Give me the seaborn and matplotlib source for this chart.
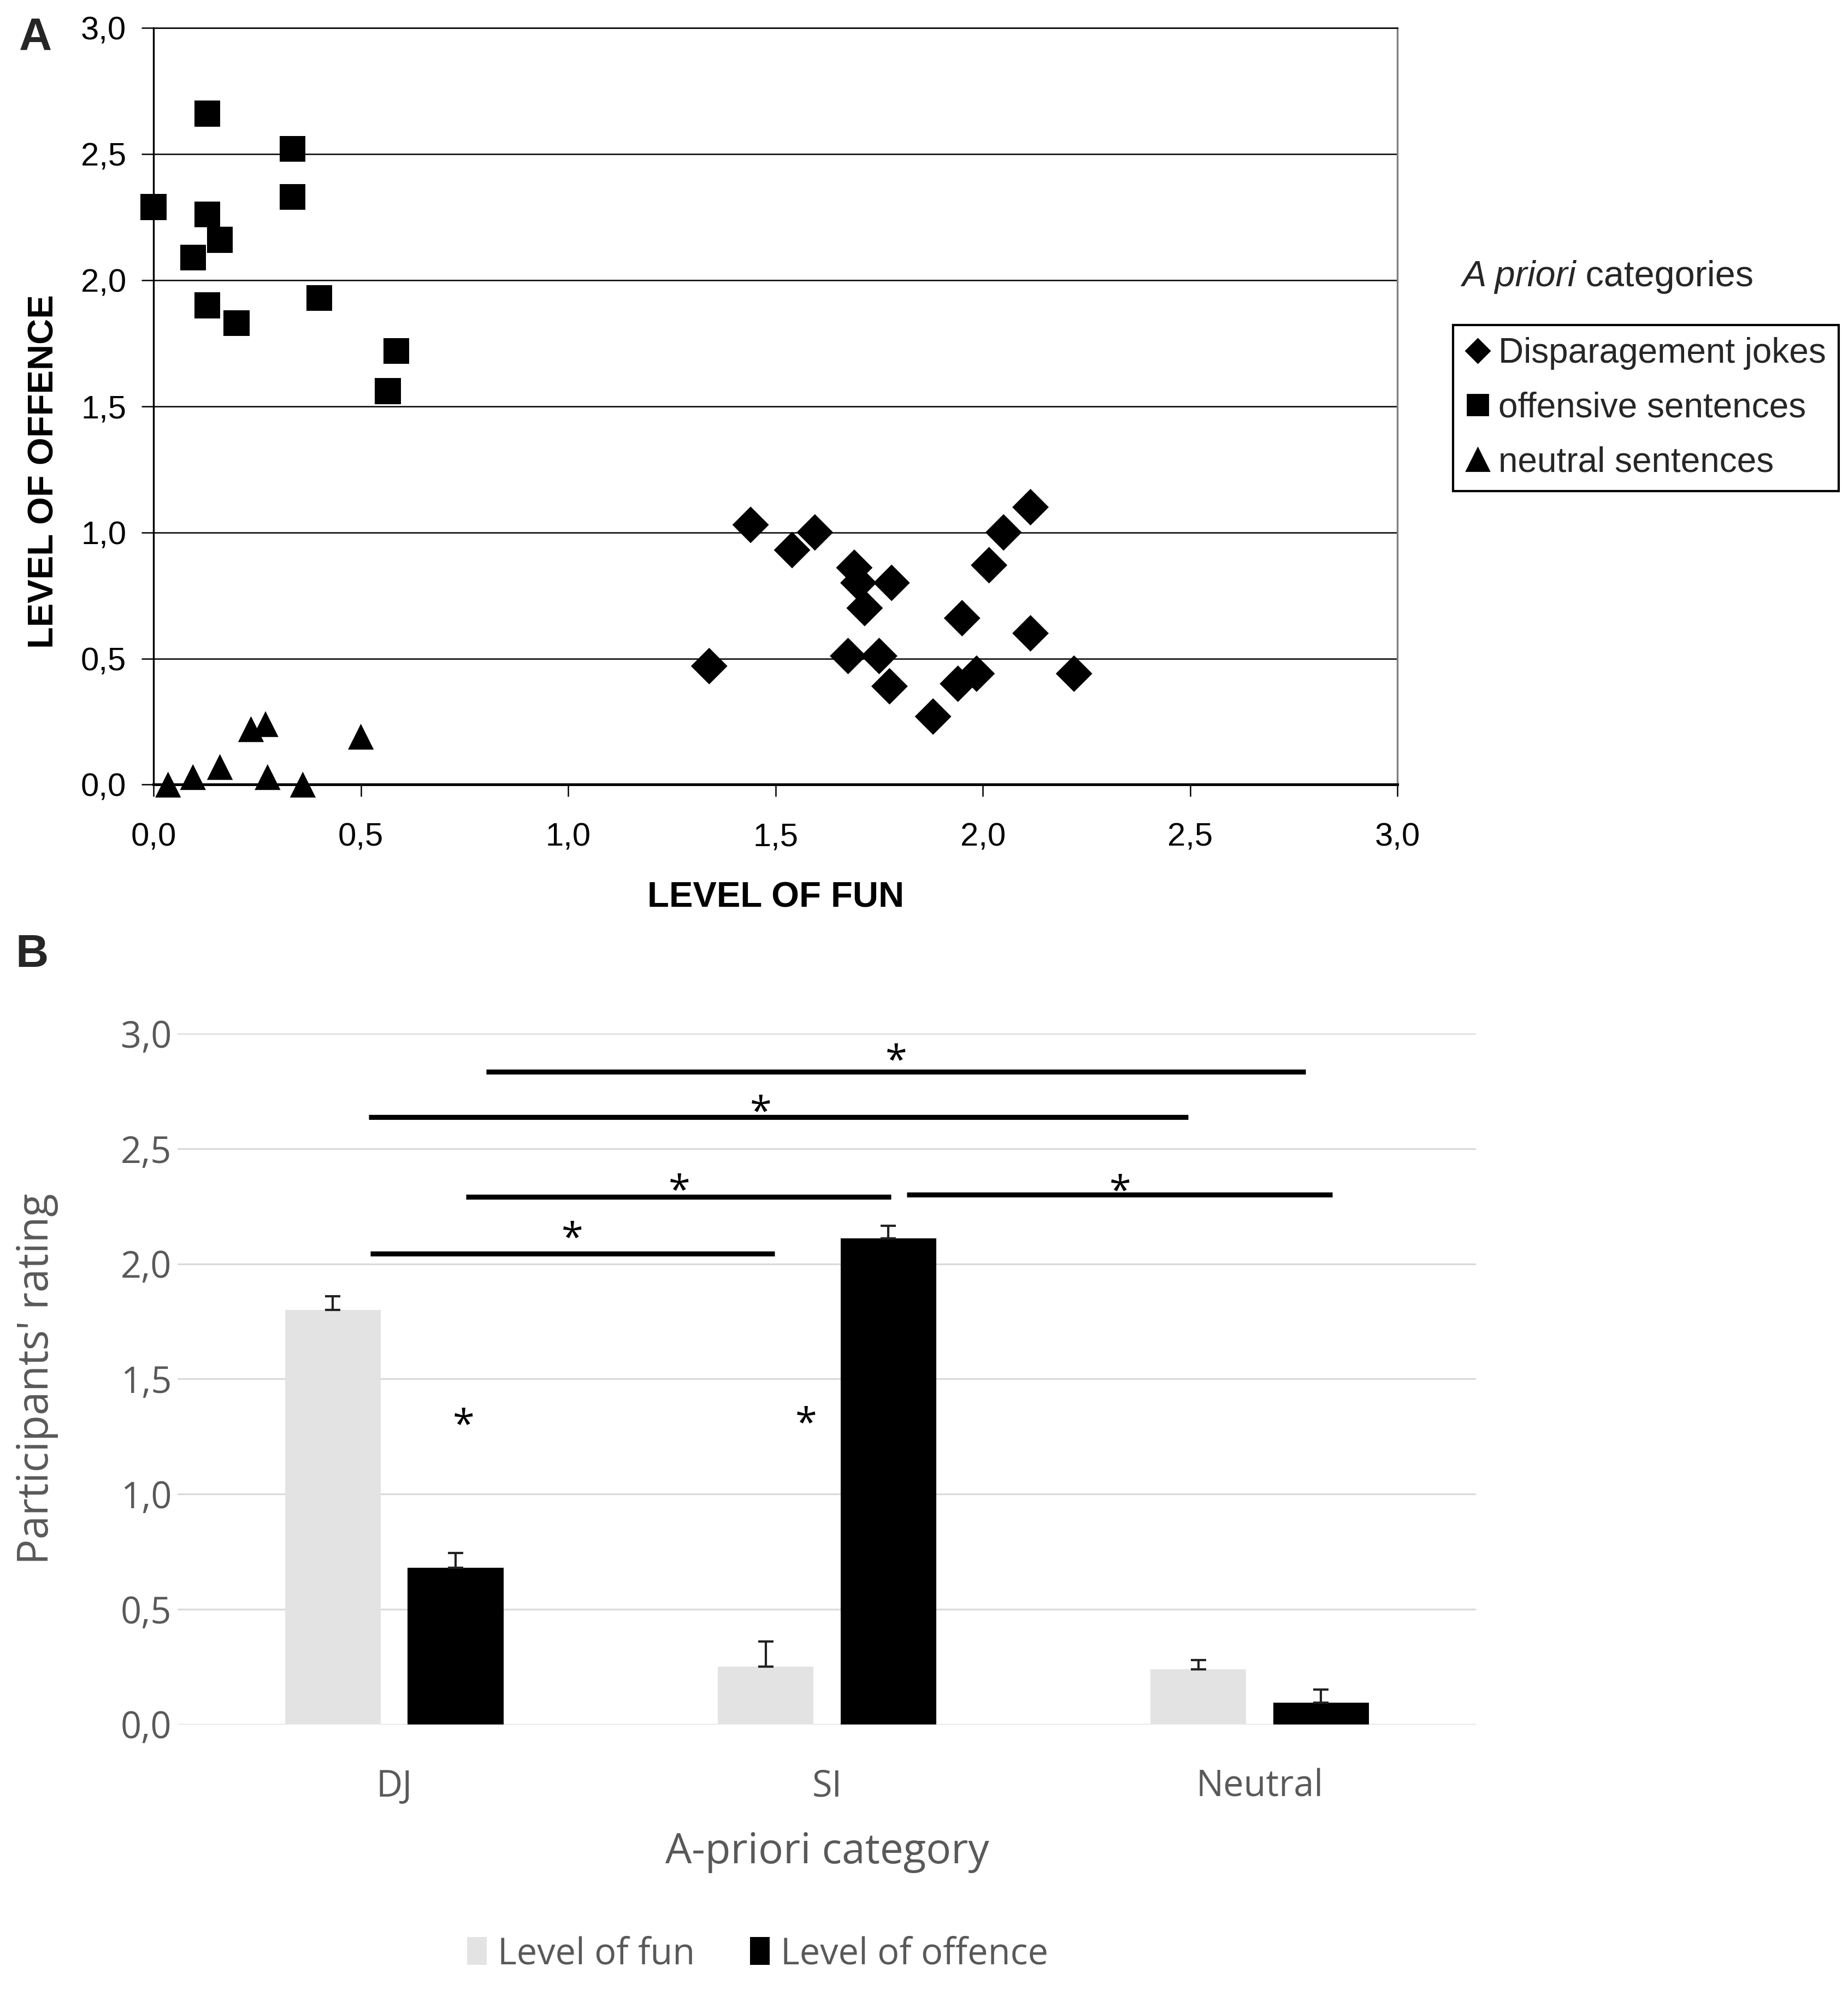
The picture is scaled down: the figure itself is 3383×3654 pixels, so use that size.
import numpy as np
import pandas as pd
import matplotlib
matplotlib.use("Agg")
import matplotlib.pyplot as plt
import matplotlib.transforms as mtransforms
import seaborn as sns
from matplotlib.lines import Line2D

# ---------------- Panel A data ----------------
dj_fun = [1.44, 1.54, 1.595, 1.69, 1.70, 1.715, 1.78, 1.34, 1.675, 1.75,
          1.775, 1.88, 1.95, 1.94, 1.985, 2.015, 2.05, 2.115, 2.115, 2.22]
dj_off = [1.03, 0.93, 1.00, 0.86, 0.80, 0.70, 0.80, 0.47, 0.51, 0.51,
          0.39, 0.27, 0.66, 0.40, 0.44, 0.87, 1.00, 1.10, 0.60, 0.44]
os_fun = [0.00, 0.13, 0.13, 0.095, 0.16, 0.13, 0.20, 0.335, 0.335, 0.40, 0.585, 0.565]
os_off = [2.29, 2.66, 2.26, 2.09, 2.16, 1.90, 1.83, 2.52, 2.33, 1.93, 1.72, 1.56]
ns_fun = [0.035, 0.095, 0.16, 0.235, 0.27, 0.275, 0.36, 0.50]
ns_off = [0.00, 0.03, 0.07, 0.22, 0.24, 0.03, 0.00, 0.19]
categories_a = ["Disparagement jokes", "offensive sentences", "neutral sentences"]
markers_a = ["D", "s", "^"]
axis_ticks = [0.0, 0.5, 1.0, 1.5, 2.0, 2.5, 3.0]
axis_tick_labels = ["0,0", "0,5", "1,0", "1,5", "2,0", "2,5", "3,0"]

# ---------------- Panel B data ----------------
b_categories = ["DJ", "SI", "Neutral"]
b_series = ["Level of fun", "Level of offence"]
fun_mean = [1.80, 0.25, 0.24]
fun_err = [0.06, 0.11, 0.04]
off_mean = [0.68, 2.11, 0.095]
off_err = [0.065, 0.055, 0.055]
# significance brackets (x start, x end, y) and asterisks (x, y)
sig_x0 = [0.213, -0.059, 0.166, 1.185, -0.055]
sig_x1 = [2.106, 1.834, 1.148, 2.168, 0.879]
sig_y = [2.835, 2.637, 2.290, 2.300, 2.043]
star_x = [1.160, 0.847, 0.659, 1.677, 0.412, 0.161, 0.952]
star_y = [2.915, 2.693, 2.350, 2.348, 2.145, 1.332, 1.341]

sns.set_theme(style="white")
plt.rcParams["font.family"] = ["Liberation Sans", "DejaVu Sans"]

fig = plt.figure(figsize=(3383 / 200, 3654 / 200), dpi=200)

# ================= Panel A =================
axA = fig.add_axes([0.0831, 0.6069, 0.6731, 0.3791])
dfA = pd.DataFrame({
    "fun": dj_fun + os_fun + ns_fun,
    "offence": dj_off + os_off + ns_off,
    "category": [categories_a[0]] * len(dj_fun) + [categories_a[1]] * len(os_fun)
                + [categories_a[2]] * len(ns_fun),
})
sns.scatterplot(data=dfA, x="fun", y="offence", style="category",
                style_order=categories_a, markers=dict(zip(categories_a, markers_a)),
                color="black", s=290, linewidth=0, ax=axA, legend=False,
                clip_on=False, zorder=3)
axA.set_xlim(0, 3)
axA.set_ylim(0, 3)
axA.set_xticks(axis_ticks, axis_tick_labels)
axA.set_yticks(axis_ticks, axis_tick_labels)
axA.yaxis.grid(True, color="black", lw=0.9)
axA.xaxis.grid(False)
axA.set_axisbelow(True)
for side, col, lw in [("left", "black", 1.2), ("bottom", "black", 1.8),
                      ("top", "black", 0.9), ("right", "#808080", 1.2)]:
    axA.spines[side].set_visible(True)
    axA.spines[side].set_color(col)
    axA.spines[side].set_linewidth(lw)
axA.tick_params(axis="both", which="both", bottom=True, left=True, top=False, right=False,
                direction="out", length=8, width=0.9, color="black", labelsize=21.5,
                labelcolor="black")
axA.tick_params(axis="x", pad=17)
axA.tick_params(axis="y", pad=10)
axA.set_xlabel("LEVEL OF FUN", fontsize=23.5, fontweight="bold", color="black")
axA.set_ylabel("LEVEL OF OFFENCE", fontsize=23.5, fontweight="bold", color="black")
axA.xaxis.set_label_coords(0.5, -0.128)
axA.yaxis.set_label_coords(-0.075, 0.414)

fig.text(0.0192, 0.981, "A", fontsize=30, fontweight="bold", ha="center", va="center")

t1 = fig.text(0.791, 0.8613, "A priori", fontsize=24, style="italic", ha="left",
              va="center")
axA.annotate(" categories", xy=(1, 0.5), xycoords=t1, fontsize=24, ha="left",
             va="center", annotation_clip=False)

handlesA = [Line2D([], [], marker="D", ls="none", color="black", ms=11),
            Line2D([], [], marker="s", ls="none", color="black", ms=14),
            Line2D([], [], marker="^", ls="none", color="black", ms=15)]
legA = fig.legend(handlesA, categories_a, loc="upper left",
                  bbox_to_anchor=(0.7864, 0.8372), bbox_transform=fig.transFigure,
                  frameon=True, fancybox=False, edgecolor="black", fontsize=23,
                  handlelength=0.7, handletextpad=0.25, borderpad=0.35,
                  labelspacing=0.62, borderaxespad=0, framealpha=1)
legA.get_frame().set_linewidth(1.5)

# ================= Panel B =================
bfont = ["Open Sans", "DejaVu Sans"]
grey_txt = "#595959"
axB = fig.add_axes([0.0962, 0.1361, 0.7026, 0.3461])
dfB = pd.DataFrame({
    "category": b_categories * 2,
    "series": [b_series[0]] * 3 + [b_series[1]] * 3,
    "rating": fun_mean + off_mean,
})
sns.barplot(data=dfB, x="category", y="rating", hue="series", hue_order=b_series,
            palette=["#e3e3e3", "black"], width=0.567, gap=0.22, errorbar=None,
            linewidth=0, ax=axB, zorder=2)
for cont, errs in zip(axB.containers, [fun_err, off_err]):
    xs = [p.get_x() + p.get_width() / 2 for p in cont]
    hs = [p.get_height() for p in cont]
    axB.errorbar(xs, hs, yerr=[np.zeros(len(errs)), errs], fmt="none",
                 ecolor="#222222", elinewidth=1.5, capsize=5, capthick=1.5, zorder=3)

axB.set_xlim(-0.5, 2.5)
axB.set_ylim(0, 3)
axB.set_yticks(axis_ticks, axis_tick_labels)
axB.yaxis.grid(True, color="#d9d9d9", lw=1.1)
axB.xaxis.grid(False)
axB.set_axisbelow(True)
for s in axB.spines.values():
    s.set_visible(False)
axB.tick_params(axis="both", length=0, labelsize=24, labelcolor=grey_txt)
axB.tick_params(axis="x", pad=29)
axB.tick_params(axis="y", pad=4)
for lab in axB.get_xticklabels() + axB.get_yticklabels():
    lab.set_family(bfont)
axB.set_xlabel("A-priori category", fontsize=27.5, color=grey_txt, family=bfont)
axB.set_ylabel("Participants' rating", fontsize=28, color=grey_txt, family=bfont)
axB.xaxis.set_label_coords(0.5, -0.155)
axB.yaxis.set_label_coords(-0.092, 0.5)

for x0, x1, y in zip(sig_x0, sig_x1, sig_y):
    axB.plot([x0, x1], [y, y], color="black", lw=3.3, solid_capstyle="butt", zorder=4)
star_trans = mtransforms.offset_copy(axB.transData, fig=fig, x=0, y=-6, units="points")
for x, y in zip(star_x, star_y):
    axB.text(x, y, "*", fontsize=26, color="black", ha="center", va="center",
             family=bfont, zorder=5, transform=star_trans)

hB, lB = axB.get_legend_handles_labels()
if axB.get_legend() is not None:
    axB.get_legend().remove()
legB = fig.legend(hB, lB, loc="center", bbox_to_anchor=(0.41, 0.021),
                  bbox_transform=fig.transFigure, ncol=2, frameon=False,
                  prop={"family": bfont, "size": 24}, handlelength=0.55,
                  handleheight=0.8, handletextpad=0.3, columnspacing=1.5,
                  labelcolor=grey_txt)

fig.text(0.0172, 0.5216, "B", fontsize=30, fontweight="bold", ha="center", va="center")

fig.savefig("out.png", dpi=200)
